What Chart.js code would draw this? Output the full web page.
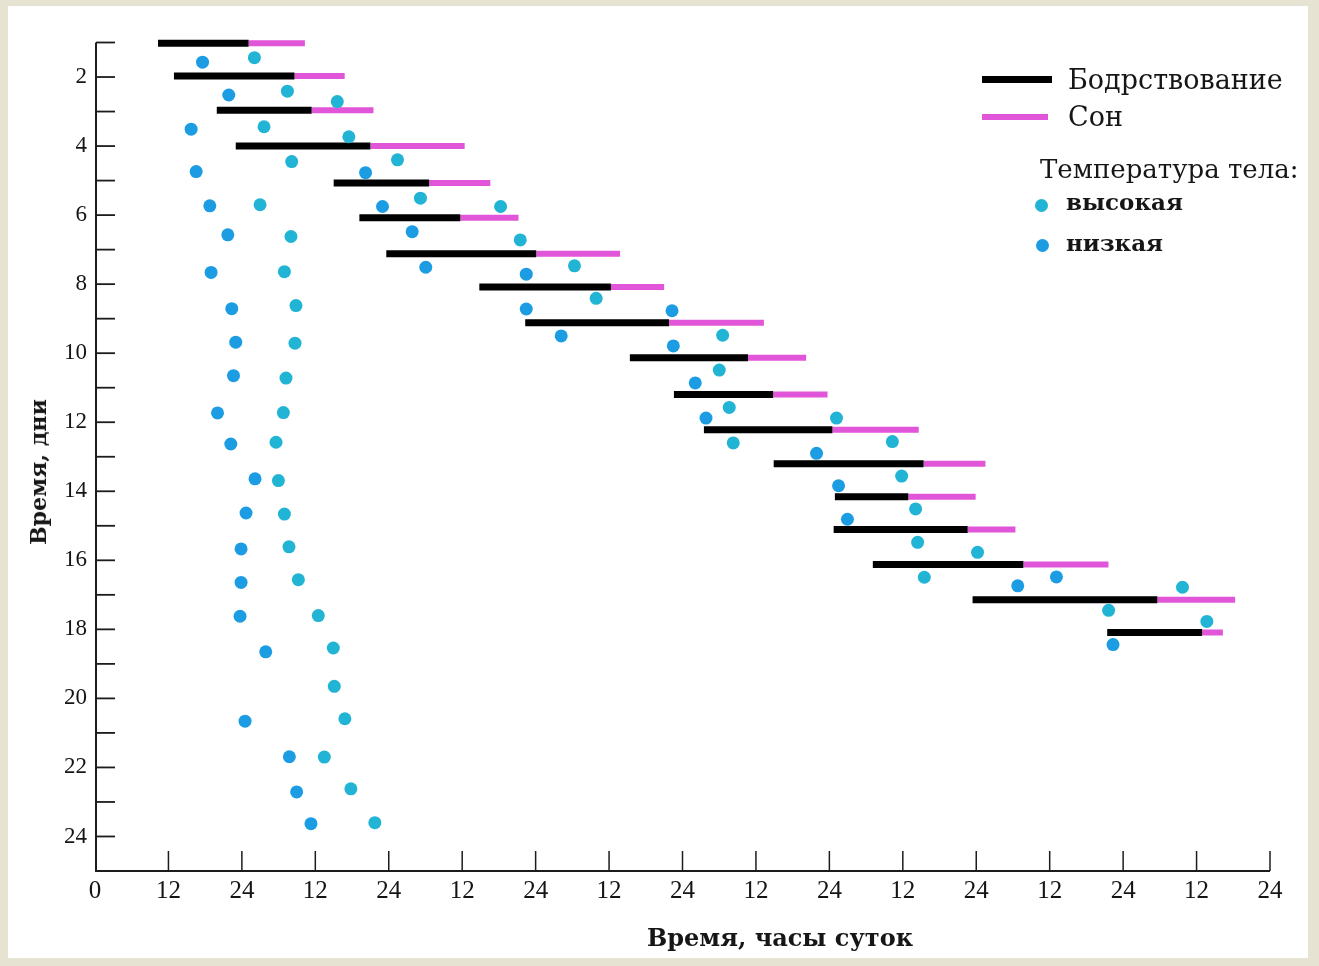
<!DOCTYPE html>
<html>
<head>
<meta charset="utf-8">
<script src="https://cdn.jsdelivr.net/npm/chart.js@4/dist/chart.umd.min.js"></script>
<style>
  html, body { margin: 0; padding: 0; }
  body { width: 1319px; height: 966px; background: #e6e3d2; position: relative; overflow: hidden; }
  #panel { position: absolute; left: 8px; top: 6px; width: 1300px; height: 952px; background: #fff; }
  #wrap { position: absolute; left: 0; top: 0; width: 1319px; height: 966px; }
  .t { position: absolute; white-space: nowrap; color: #161616; font-family: 'DejaVu Serif', serif; }
  .sw { position: absolute; }
  .dot { position: absolute; width: 13px; height: 13px; border-radius: 50%; }
</style>
</head>
<body>
<div id="panel"></div>
<div id="wrap"><canvas id="c" width="1319" height="966"></canvas></div>

<div class="sw" style="left:982px;top:76px;width:70px;height:7px;background:#000;"></div>
<div class="t" style="left:1068px;top:63px;font-size:27px;line-height:34px;">Бодрствование</div>
<div class="sw" style="left:982px;top:114px;width:66px;height:6px;background:#e156d8;"></div>
<div class="t" style="left:1068px;top:100px;font-size:27px;line-height:34px;">Сон</div>
<div class="t" style="left:1040px;top:152px;font-size:26px;line-height:34px;">Температура тела:</div>
<div class="dot" style="left:1035px;top:199px;background:#22b4d4;"></div>
<div class="t" style="left:1066px;top:185px;font-size:23px;line-height:34px;font-weight:bold;">высокая</div>
<div class="dot" style="left:1036px;top:239px;background:#1c9ce2;"></div>
<div class="t" style="left:1066px;top:226px;font-size:23px;line-height:34px;font-weight:bold;">низкая</div>

<div class="t" style="left:780px;top:921px;transform:translateX(-50%);font-size:24px;line-height:34px;font-weight:bold;">Время, часы суток</div>
<div class="t" style="left:38px;top:472px;transform:translate(-50%,-50%) rotate(-90deg);font-size:22px;line-height:30px;font-weight:bold;">Время, дни</div>

<script>
// ---- Data (hours on x, days on y) ----
const barDays   = [1.02, 1.97, 2.96, 4.0, 5.07, 6.08, 7.12, 8.08, 9.12, 10.13, 11.2, 12.22, 13.2, 14.16, 15.11, 16.12, 17.14, 18.09];
const wakeStart = [10.3, 12.9, 19.9, 23.0, 39.0, 43.2, 47.6, 62.8, 70.3, 87.4, 94.6, 99.5, 110.9, 120.9, 120.7, 127.1, 143.4, 165.4];
const wakeEnd   = [25.1, 32.6, 35.4, 45.0, 54.6, 59.7, 72.1, 84.3, 93.8, 106.7, 110.8, 120.5, 135.4, 132.9, 142.6, 151.7, 173.6, 180.9];
const sleepEnd  = [34.3, 40.8, 45.5, 60.4, 64.6, 69.2, 85.8, 93.0, 109.3, 116.2, 119.7, 134.6, 145.5, 143.9, 150.4, 165.6, 186.3, 184.3];

const highHours = [26.05, 31.44, 27.62, 32.14, 26.97, 32.02, 30.95, 32.84, 32.68, 31.21, 30.78, 29.58, 29.97, 30.95, 31.70, 33.23, 36.49, 38.94, 39.10, 40.83, 37.47, 41.81, 45.73,
                   39.59, 41.48, 49.43, 53.18, 66.28, 69.49, 78.35, 81.89, 102.56, 102.01, 103.64, 121.16, 130.29, 104.29, 131.81, 134.09, 134.42, 144.21, 135.51, 177.70, 165.63, 181.68];
const highDays  = [1.44, 2.41, 3.44, 4.45, 5.70, 6.62, 7.64, 8.62, 9.71, 10.72, 11.72, 12.58, 13.69, 14.66, 15.61, 16.56, 17.60, 18.54, 19.65, 20.59, 21.70, 22.62, 23.60,
                   2.71, 3.73, 4.40, 5.51, 5.75, 6.72, 7.47, 8.41, 9.48, 10.49, 11.57, 11.88, 12.56, 12.60, 13.56, 14.51, 15.48, 15.77, 16.49, 16.78, 17.45, 17.77];
const lowHours  = [17.57, 21.86, 15.71, 16.53, 18.76, 21.70, 18.97, 22.35, 23.0, 22.63, 20.02, 22.19, 26.15, 24.68, 23.87, 23.87, 23.70, 27.90, 24.52, 31.76, 32.95, 35.29,
                   44.21, 46.98, 51.83, 54.05, 70.47, 70.47, 94.29, 76.18, 94.50, 98.08, 99.84, 117.90, 121.50, 122.95, 157.10, 150.78, 166.35];
const lowDays   = [1.57, 2.52, 3.51, 4.74, 5.73, 6.57, 7.66, 8.71, 9.68, 10.65, 11.73, 12.63, 13.64, 14.63, 15.67, 16.64, 17.62, 18.65, 20.66, 21.69, 22.71, 23.63,
                   4.77, 5.75, 6.48, 7.51, 7.71, 8.72, 8.77, 9.50, 9.79, 10.86, 11.88, 12.90, 13.84, 14.81, 16.48, 16.74, 18.44];

const xTickValues = [0, 12, 24, 36, 48, 60, 72, 84, 96, 108, 120, 132, 144, 156, 168, 180, 192];
const yTickValues = [2, 4, 6, 8, 10, 12, 14, 16, 18, 20, 22, 24];

// ---- Build datasets from the arrays ----
function segments(starts, ends, days) {
  const out = [];
  for (let i = 0; i < days.length; i++) {
    out.push({x: starts[i], y: days[i]}, {x: ends[i], y: days[i]}, {x: null, y: null});
  }
  return out;
}
function points(xs, ys) { return xs.map((x, i) => ({x: x, y: ys[i]})); }

const axesPlugin = {
  id: 'axesPlugin',
  beforeDatasetsDraw(chart) {
    const {ctx, scales: {x, y}} = chart;
    ctx.save();
    ctx.strokeStyle = '#1c1c1c';
    ctx.lineWidth = 2;
    ctx.lineCap = 'butt';
    const x0 = x.getPixelForValue(0) + 1;
    const yTop = y.getPixelForValue(1);
    const yBot = y.getPixelForValue(25);
    ctx.beginPath();
    ctx.moveTo(x0, yTop);
    ctx.lineTo(x0, yBot);
    ctx.lineTo(x.getPixelForValue(192), yBot);
    ctx.stroke();
    ctx.lineWidth = 1.8;
    for (let d = 1; d <= 24; d++) {
      const py = y.getPixelForValue(d);
      ctx.beginPath(); ctx.moveTo(x0, py); ctx.lineTo(x0 + 19, py); ctx.stroke();
    }
    ctx.lineWidth = 1.5;
    for (let h = 12; h <= 192; h += 12) {
      const px = x.getPixelForValue(h);
      ctx.beginPath(); ctx.moveTo(px, yBot); ctx.lineTo(px, yBot - 20); ctx.stroke();
    }
    ctx.restore();
  }
};

new Chart(document.getElementById('c'), {
  type: 'scatter',
  data: {
    datasets: [
      { label: 'Бодрствование', data: segments(wakeStart, wakeEnd, barDays), showLine: true, spanGaps: false,
        borderColor: '#000', borderWidth: 7, borderCapStyle: 'butt', pointRadius: 0, clip: false, order: 3 },
      { label: 'Сон', data: segments(wakeEnd, sleepEnd, barDays), showLine: true, spanGaps: false,
        borderColor: '#e156d8', borderWidth: 6, borderCapStyle: 'butt', pointRadius: 0, clip: false, order: 4 },
      { label: 'высокая', data: points(highHours, highDays), backgroundColor: '#22b4d4', borderWidth: 0,
        pointRadius: 6.5, clip: false, order: 1 },
      { label: 'низкая', data: points(lowHours, lowDays), backgroundColor: '#1c9ce2', borderWidth: 0,
        pointRadius: 6.5, clip: false, order: 2 }
    ]
  },
  options: {
    responsive: false,
    animation: false,
    events: [],
    layout: { padding: { left: 0, top: 42.5, right: 49, bottom: 0 } },
    plugins: { legend: { display: false }, tooltip: { enabled: false } },
    scales: {
      x: {
        type: 'linear', min: 0, max: 192,
        afterFit(scale) { scale.height = 95; },
        afterBuildTicks(scale) { scale.ticks = xTickValues.map(v => ({value: v})); },
        grid: { display: false, drawTicks: false },
        border: { display: false },
        ticks: {
          autoSkip: false, maxRotation: 0, padding: 5, color: '#151515',
          font: { family: "'Liberation Serif', serif", size: 25 },
          callback: v => v === 0 ? '0' : (v % 24 === 0 ? '24' : '12')
        }
      },
      y: {
        type: 'linear', min: 1, max: 25, reverse: true,
        afterFit(scale) { scale.width = 95; },
        afterBuildTicks(scale) { scale.ticks = yTickValues.map(v => ({value: v})); },
        grid: { display: false, drawTicks: false },
        border: { display: false },
        ticks: {
          autoSkip: false, padding: 8, color: '#151515',
          font: { family: "'Liberation Serif', serif", size: 23 },
          callback: v => String(v)
        }
      }
    }
  },
  plugins: [axesPlugin]
});
</script>
</body>
</html>
